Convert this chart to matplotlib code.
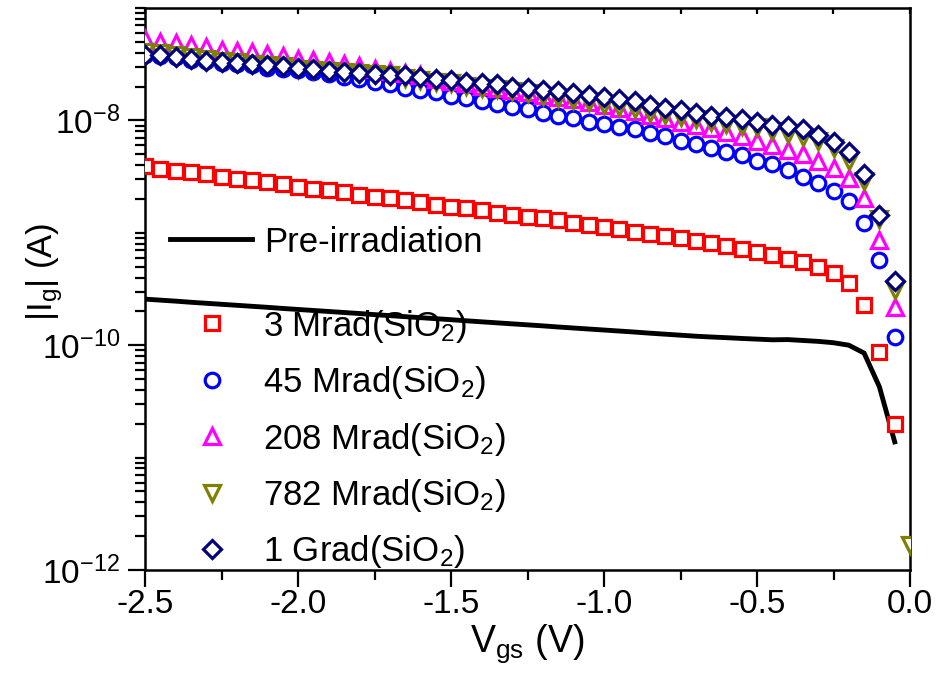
import matplotlib.pyplot as plt
import numpy as np
from matplotlib.ticker import (FixedLocator, LogLocator, LogFormatterMathtext,
                               MultipleLocator, NullFormatter)

plt.rcParams['font.family'] = ['Liberation Sans', 'DejaVu Sans']
plt.rcParams['mathtext.fontset'] = 'custom'
plt.rcParams['mathtext.rm'] = 'Liberation Sans'
plt.rcParams['mathtext.it'] = 'Liberation Sans:italic'
plt.rcParams['mathtext.default'] = 'regular'

# gate voltage sweep (V)
vgs = [-2.50, -2.45, -2.40, -2.35, -2.30, -2.25, -2.20, -2.15, -2.10, -2.05,
       -2.00, -1.95, -1.90, -1.85, -1.80, -1.75, -1.70, -1.65, -1.60, -1.55,
       -1.50, -1.45, -1.40, -1.35, -1.30, -1.25, -1.20, -1.15, -1.10, -1.05,
       -1.00, -0.95, -0.90, -0.85, -0.80, -0.75, -0.70, -0.65, -0.60, -0.55,
       -0.50, -0.45, -0.40, -0.35, -0.30, -0.25, -0.20, -0.15, -0.10, -0.05]
vgs_782 = vgs + [0.0]

# log10(|Ig| / A)
log_pre = [-9.590, -9.599, -9.608, -9.618, -9.627, -9.636, -9.645, -9.654, -9.663, -9.673,
           -9.682, -9.691, -9.700, -9.709, -9.718, -9.728, -9.737, -9.746, -9.755, -9.764,
           -9.773, -9.783, -9.792, -9.801, -9.810, -9.819, -9.828, -9.838, -9.847, -9.856,
           -9.865, -9.874, -9.883, -9.893, -9.902, -9.911, -9.920, -9.927, -9.933, -9.940,
           -9.946, -9.952, -9.950, -9.958, -9.966, -9.978, -10.000, -10.070, -10.370, -10.860]
log_3m = [-8.41, -8.43, -8.45, -8.46, -8.48, -8.50, -8.52, -8.53, -8.55, -8.57,
          -8.59, -8.61, -8.62, -8.64, -8.66, -8.68, -8.69, -8.71, -8.73, -8.75,
          -8.77, -8.78, -8.80, -8.82, -8.84, -8.86, -8.87, -8.89, -8.91, -8.93,
          -8.95, -8.97, -8.99, -9.01, -9.03, -9.05, -9.07, -9.09, -9.12, -9.14,
          -9.17, -9.20, -9.23, -9.26, -9.30, -9.36, -9.45, -9.64, -10.06, -10.70]
log_45m = [-7.42, -7.43, -7.44, -7.46, -7.47, -7.49, -7.50, -7.51, -7.53, -7.54,
           -7.55, -7.57, -7.59, -7.61, -7.63, -7.66, -7.68, -7.71, -7.73, -7.75,
           -7.78, -7.80, -7.83, -7.85, -7.88, -7.90, -7.93, -7.96, -7.98, -8.01,
           -8.03, -8.06, -8.08, -8.11, -8.14, -8.18, -8.21, -8.25, -8.28, -8.31,
           -8.36, -8.39, -8.44, -8.50, -8.56, -8.63, -8.72, -8.91, -9.24, -9.93]
log_208m = [-7.28, -7.30, -7.31, -7.33, -7.35, -7.37, -7.38, -7.39, -7.41, -7.43,
            -7.45, -7.46, -7.48, -7.50, -7.52, -7.54, -7.56, -7.58, -7.60, -7.63,
            -7.65, -7.67, -7.69, -7.71, -7.73, -7.75, -7.77, -7.79, -7.81, -7.84,
            -7.86, -7.89, -7.92, -7.95, -7.98, -8.01, -8.04, -8.07, -8.10, -8.14,
            -8.18, -8.22, -8.26, -8.30, -8.36, -8.42, -8.51, -8.69, -9.06, -9.66]
log_782m = [-7.39, -7.40, -7.42, -7.44, -7.45, -7.47, -7.48, -7.50, -7.51, -7.52,
            -7.54, -7.55, -7.56, -7.57, -7.58, -7.59, -7.60, -7.62, -7.64, -7.66,
            -7.67, -7.69, -7.71, -7.72, -7.74, -7.76, -7.78, -7.80, -7.82, -7.84,
            -7.86, -7.88, -7.90, -7.93, -7.95, -7.97, -7.99, -8.01, -8.03, -8.05,
            -8.06, -8.09, -8.12, -8.15, -8.18, -8.25, -8.36, -8.54, -8.88, -9.51,
            -11.78]
log_1g = [-7.42, -7.42, -7.44, -7.45, -7.47, -7.48, -7.49, -7.50, -7.51, -7.52,
          -7.53, -7.54, -7.56, -7.57, -7.58, -7.59, -7.60, -7.60, -7.61, -7.63,
          -7.64, -7.66, -7.67, -7.68, -7.70, -7.71, -7.73, -7.74, -7.76, -7.77,
          -7.79, -7.81, -7.83, -7.86, -7.89, -7.91, -7.93, -7.96, -7.97, -7.99,
          -8.01, -8.04, -8.05, -8.08, -8.13, -8.19, -8.28, -8.48, -8.84, -9.43]

labels = ['3 Mrad(SiO$_2$)', '45 Mrad(SiO$_2$)', '208 Mrad(SiO$_2$)',
          '782 Mrad(SiO$_2$)', '1 Grad(SiO$_2$)']
colors = ['#ff0000', '#0000ff', '#ff00ff', '#808000', '#000080']
markers = ['s', 'o', '^', 'v', 'D']
sizes = [9.5, 10.5, 12, 12, 9.5]
series = [(vgs, log_3m), (vgs, log_45m), (vgs, log_208m), (vgs_782, log_782m), (vgs, log_1g)]
y_major = [1e-12, 1e-10, 1e-8]

W, H = 938, 673
fig = plt.figure(figsize=(W / 100, H / 100), dpi=100)
ax = fig.add_axes([145 / W, 1 - 570 / H, 765 / W, 562 / H])

pre, = ax.plot(vgs, 10 ** np.array(log_pre), color='black', lw=3.5, zorder=2)

handles = []
for (x, lg), lab, c, m, s in zip(series, labels, colors, markers, sizes):
    h, = ax.plot(x, 10 ** np.array(lg), ls='none', marker=m, ms=s, mew=2.3,
                 mfc='white', mec=c, label=lab, zorder=3)
    handles.append(h)

ax.set_yscale('log')
ax.set_xlim(-2.5, 0.0)
ax.set_ylim(1e-12, 1e-7)
ax.xaxis.set_major_locator(MultipleLocator(0.5))
ax.xaxis.set_minor_locator(MultipleLocator(0.25))
ax.yaxis.set_major_locator(FixedLocator(y_major))
ax.yaxis.set_major_formatter(LogFormatterMathtext())
ax.yaxis.set_minor_locator(LogLocator(base=10, subs=np.arange(1, 10), numticks=30))
ax.yaxis.set_minor_formatter(NullFormatter())
ax.xaxis.set_major_formatter(plt.FuncFormatter(lambda v, p: '%.1f' % v))

ax.tick_params(which='major', direction='out', length=12, width=1.6, labelsize=24)
ax.tick_params(which='minor', direction='out', length=7, width=1.6)
ax.tick_params(axis='x', pad=2)
ax.tick_params(axis='y', pad=6)
for sp in ax.spines.values():
    sp.set_linewidth(1.8)

top = ax.secondary_xaxis('top')
top.xaxis.set_major_locator(MultipleLocator(0.25))
top.tick_params(direction='in', length=4, width=1.6, labeltop=False)

ax.set_xlabel('V$_{gs}$ (V)', fontsize=27, labelpad=1)
ax.set_ylabel('|I$_g$| (A)', fontsize=25)
ax.yaxis.set_label_coords(-0.105, 0.53)

leg1 = ax.legend([pre], ['Pre-irradiation'], loc='center left',
                 bbox_to_anchor=(170 / W, 1 - 242 / H), bbox_transform=fig.transFigure,
                 frameon=False, borderpad=0, borderaxespad=0, handlelength=2.35,
                 handletextpad=0.37, fontsize=25)
ax.add_artist(leg1)
ax.legend(handles, labels, loc='center left',
          bbox_to_anchor=(195 / W, 1 - 439 / H), bbox_transform=fig.transFigure,
          frameon=False, borderpad=0, borderaxespad=0, handlelength=1.0,
          handletextpad=0.95, labelspacing=0.56, fontsize=25)

fig.savefig('out.png', dpi=100)
